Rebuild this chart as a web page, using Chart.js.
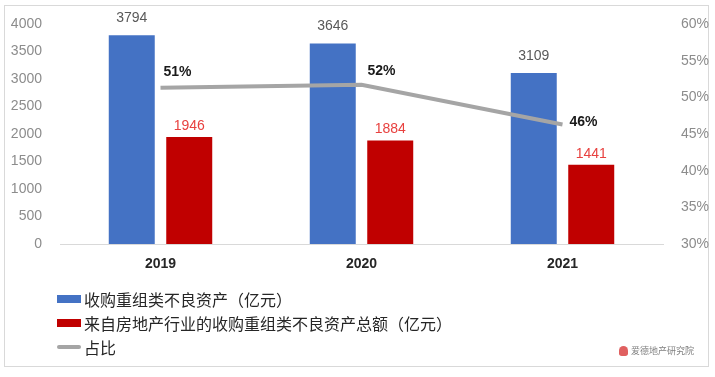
<!DOCTYPE html>
<html>
<head>
<meta charset="utf-8">
<script src="https://cdn.jsdelivr.net/npm/chart.js@4"></script>
<style>
  body { margin: 0; background: #fff; font-family: "Liberation Sans", "Noto Sans CJK SC", sans-serif; }
  #wrap { position: relative; width: 715px; height: 377px; }
  #frame { position: absolute; left: 4px; top: 5px; width: 705px; height: 362px; border: 1px solid #d9d9d9; box-sizing: border-box; }
  #chart { position: absolute; left: 0; top: 0; }
  #legend { position: absolute; left: 57px; top: 287px; font-family: "Noto Sans CJK SC", sans-serif; font-size: 16px; color: #262626; }
  .row { height: 24px; display: flex; align-items: center; }
  .swatch { width: 24px; margin-right: 3px; }
  #mark { position: absolute; left: 619px; top: 344px; font-family: "Noto Sans CJK SC", sans-serif; font-size: 9px; color: #808080; display: flex; align-items: center; }
  #mark .dot { width: 9px; height: 10px; border-radius: 5px 5px 3px 3px; background: #e06060; margin-right: 3px; }
</style>
</head>
<body>
<div id="wrap">
  <div id="frame"></div>
  <canvas id="chart" width="715" height="377"></canvas>
  <div id="legend"></div>
  <div id="mark"><span class="dot"></span>爱德地产研究院</div>
</div>
<script>
    // chart data
    const years = ['2019', '2020', '2021'];
    const totalAssets = [3794, 3646, 3109];
    const realEstateAssets = [1946, 1884, 1441];
    const shareValues = [51.3, 51.7, 46.3];
    const leftTicks = [0, 500, 1000, 1500, 2000, 2500, 3000, 3500, 4000];
    const rightTicks = [30, 35, 40, 45, 50, 55, 60];

    const seriesNames = ['收购重组类不良资产（亿元）', '来自房地产行业的收购重组类不良资产总额（亿元）', '占比'];
    const seriesColors = ['#4472C4', '#C00000', '#A5A5A5'];

    // label placement for the percent labels (dx, dy from the point)
    const pctOffsets = [[3, -16], [6, -14], [7, -2]];

    // Draw values above bars and percent labels beside line points
    const labelPlugin = {
        id: 'labels',
        afterDatasetsDraw(chart) {
            const ctx = chart.ctx;
            ctx.save();
            ctx.textAlign = 'center';
            ctx.textBaseline = 'middle';
            ctx.font = '14px "Liberation Sans"';
            chart.getDatasetMeta(0).data.forEach((bar, i) => {
                ctx.fillStyle = '#595959';
                ctx.fillText(totalAssets[i], bar.x, bar.y - 17);
            });
            chart.getDatasetMeta(1).data.forEach((bar, i) => {
                ctx.fillStyle = '#E8413F';
                ctx.fillText(realEstateAssets[i], bar.x, bar.y - 11);
            });
            ctx.textAlign = 'left';
            ctx.font = 'bold 14px "Liberation Sans"';
            ctx.fillStyle = '#1a1a1a';
            chart.getDatasetMeta(2).data.forEach((pt, i) => {
                ctx.fillText(Math.round(shareValues[i]) + '%', pt.x + pctOffsets[i][0], pt.y + pctOffsets[i][1]);
            });
            ctx.restore();
        }
    };

    const ctx = document.getElementById('chart').getContext('2d');
    new Chart(ctx, {
        type: 'bar',
        data: {
            labels: years,
            datasets: [
                {
                    label: seriesNames[0],
                    data: totalAssets,
                    backgroundColor: seriesColors[0],
                    yAxisID: 'y',
                    order: 1,
                    categoryPercentage: 0.572,
                    barPercentage: 0.8
                },
                {
                    label: seriesNames[1],
                    data: realEstateAssets,
                    backgroundColor: seriesColors[1],
                    yAxisID: 'y',
                    order: 1,
                    categoryPercentage: 0.572,
                    barPercentage: 0.8
                },
                {
                    type: 'line',
                    label: seriesNames[2],
                    data: shareValues,
                    borderColor: seriesColors[2],
                    borderWidth: 4,
                    pointRadius: 0,
                    tension: 0,
                    yAxisID: 'y1',
                    order: 0
                }
            ]
        },
        options: {
            responsive: false,
            animation: false,
            layout: { padding: { top: 24, bottom: 88, left: 0, right: 0 } },
            plugins: { legend: { display: false }, tooltip: { enabled: false } },
            scales: {
                x: {
                    grid: { display: false },
                    border: { display: true, color: '#d9d9d9', width: 1 },
                    ticks: { font: { family: 'Liberation Sans', size: 14, weight: 'bold' }, color: '#262626', padding: 4 },
                    afterFit(scale) { scale.height = 45; }
                },
                y: {
                    position: 'left',
                    min: leftTicks[0],
                    max: leftTicks[leftTicks.length - 1],
                    grid: { display: false },
                    border: { display: false },
                    afterBuildTicks(scale) { scale.ticks = leftTicks.map(v => ({ value: v })); },
                    ticks: { font: { family: 'Liberation Sans', size: 14 }, color: '#8c8c8c', padding: 10, callback: v => String(v) },
                    afterFit(scale) { scale.width = 60; }
                },
                y1: {
                    position: 'right',
                    min: rightTicks[0],
                    max: rightTicks[rightTicks.length - 1],
                    grid: { display: false },
                    border: { display: false },
                    afterBuildTicks(scale) { scale.ticks = rightTicks.map(v => ({ value: v })); },
                    ticks: { font: { family: 'Liberation Sans', size: 14 }, color: '#8c8c8c', padding: 10, callback: v => v + '%' },
                    afterFit(scale) { scale.width = 52; }
                }
            }
        },
        plugins: [labelPlugin]
    });

    // HTML legend built from the series names
    const legend = document.getElementById('legend');
    seriesNames.forEach((name, i) => {
        const row = document.createElement('div');
        row.className = 'row';
        const sw = document.createElement('span');
        sw.className = 'swatch';
        sw.style.height = i < 2 ? '8px' : '4px';
        sw.style.background = seriesColors[i];
        if (i === 2) sw.style.borderRadius = '2px';
        row.appendChild(sw);
        const txt = document.createElement('span');
        txt.textContent = name;
        row.appendChild(txt);
        legend.appendChild(row);
    });
</script>
</body>
</html>
